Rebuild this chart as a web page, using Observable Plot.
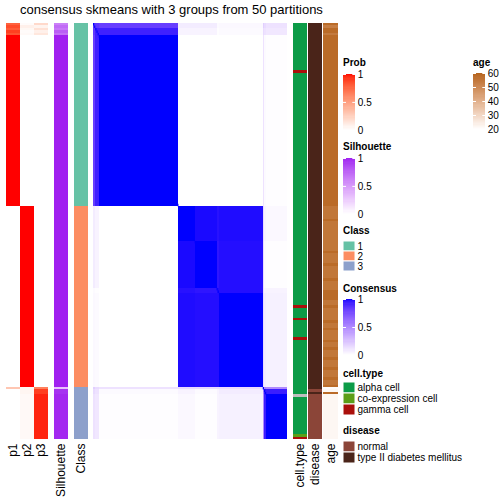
<!DOCTYPE html>
<html><head><meta charset="utf-8">
<script src="https://cdn.jsdelivr.net/npm/d3@7"></script>
<script src="https://cdn.jsdelivr.net/npm/@observablehq/plot@0.6"></script>
<style>
html,body{margin:0;padding:0;background:#fff;}
#root{position:relative;width:504px;height:504px;overflow:hidden;font-family:"Liberation Sans",Arial,Helvetica,sans-serif;}
.abs{position:absolute;}
.abs svg{display:block;overflow:visible;}
.ttl{font-weight:bold;font-size:10px;line-height:10px;white-space:nowrap;color:#000;}
</style></head><body><div id="root"></div>
<script>
// ---------------- data ----------------
const title = "consensus skmeans with 3 groups from 50 partitions";
// run-length encoded per-sample annotations: [value, count]
const classRuns = [["1",74],["2",73],["3",21]];
const p1Runs = [[0.78,1],[0.86,1],[0.8,1],[0.9,1],[0.84,1],[1,69],[0,73],[0.3,1],[0,20]];
const p2Runs = [[0.02,1],[0.08,1],[0.04,1],[0.02,1],[0.03,1],[0,69],[1,73],[0.05,1],[0.05,2],[0.03,18]];
const p3Runs = [[0.2,1],[0.06,1],[0.16,1],[0.08,1],[0.13,1],[0,69],[0,73],[0.65,1],[0.9,2],[0.96,18]];
const silhouetteRuns = [[0.62,1],[0.72,1],[0.66,1],[0.78,1],[0.7,1],[1,69],[1,73],[0.3,1],[0.95,2],[0.98,18]];
const cellTypeRuns = [["alpha cell",19],["gamma cell",1],["alpha cell",94],["gamma cell",1],["alpha cell",4],["gamma cell",1],["alpha cell",7],["gamma cell",1],["alpha cell",22],["NA",1],["alpha cell",15],["co-expression cell",1],["gamma cell",1]];
const diseaseRuns = [["type II diabetes mellitus",148],["normal",1],["type II diabetes mellitus",1],["normal",18]];
const ageRuns = [[58,1],[53,1],[58,2],[54,1],[58,69],
  [55,5],[58,1],[55,12],[58,1],[55,4],[58,1],[55,5],[58,1],[55,4],[58,4],[55,2],[58,1],[55,5],[58,1],[55,2],[58,1],[55,4],[58,1],[55,2],[58,1],[55,3],[58,1],[55,3],[58,1],[55,3],[58,1],[55,2],[58,1],
  [21,1],[22,1],[58,1],[22,18]];
// consensus matrix by sample segments (rows/cols in the same order)
const segNames = ["1u1","1u2","1","2a","2b","2t","2c","3u","3t","3"];
const segSizes = [2,3,69,14,19,2,38,1,2,18];
const consensus = [
 [0.88,0.85,0.82,0.08,0.08,0.02,0.03,0.20,0.15,0.12],
 [0.85,0.93,0.93,0.05,0.05,0.01,0.02,0.15,0.12,0.10],
 [0.82,0.93,1.00,0.00,0.00,0.00,0.00,0.12,0.02,0.01],
 [0.08,0.05,0.00,1.00,0.985,0.97,0.98,0.15,0.05,0.03],
 [0.08,0.05,0.00,0.985,1.00,0.96,0.975,0.15,0.02,0.01],
 [0.02,0.01,0.00,0.97,0.96,0.98,0.975,0.15,0.05,0.05],
 [0.03,0.02,0.00,0.98,0.975,0.975,1.00,0.15,0.08,0.06],
 [0.20,0.15,0.12,0.15,0.15,0.15,0.15,1.00,0.55,0.50],
 [0.15,0.12,0.02,0.05,0.02,0.05,0.08,0.55,0.96,0.94],
 [0.12,0.10,0.01,0.03,0.01,0.05,0.06,0.50,0.94,1.00]
];
const classColors = {domain:["1","2","3"], range:["#66C2A5","#FC8D62","#8DA0CB"]};
const cellTypeColors = {domain:["alpha cell","co-expression cell","gamma cell","NA"], range:["#0C9B47","#5B9E18","#AA0F0B","#BEBEBE"]};
const diseaseColors = {domain:["normal","type II diabetes mellitus"], range:["#8B4538","#4A2419"]};
const ageDomain = [20,60], ageTicks = [20,30,40,50,60];
const probTicks = [0,0.5,1];

// ---------------- layout ----------------
const FONT = '"Liberation Sans", Arial, Helvetica, sans-serif';
const N = d3.sum(classRuns, d => d[1]);
const HM_TOP = 23, HM_H = 416;
const root = document.getElementById("root");
function place(node, left, top, width) {
  const d = document.createElement("div");
  d.className = "abs"; d.style.left = left + "px"; d.style.top = top + "px";
  if (width) d.style.width = width + "px";
  d.appendChild(node); root.appendChild(d); return d;
}
function runsToRects(runs, col) {
  let s = 0;
  return runs.map(([value, n]) => { const r = {col, y1: s, y2: s + n, value}; s += n; return r; });
}
const baseStyle = {fontFamily: FONT, background: "transparent", overflow: "visible", maxWidth: "none"};

// title
const t = document.createElement("div");
t.textContent = title;
t.style.cssText = "font-size:13px;line-height:13px;white-space:nowrap;width:340px;text-align:center;color:#000;";
place(t, 1.5, 3, 340);

function annoPlot(cols, color, left, width) {
  const data = cols.flatMap(([name, runs]) => runsToRects(runs, name));
  const svg = Plot.plot({
    width, height: HM_H + 60, marginTop: 0, marginBottom: 60, marginLeft: 0, marginRight: 0,
    style: baseStyle,
    x: {domain: cols.map(c => c[0]), padding: 0, label: null},
    y: {domain: [0, N], reverse: true, axis: null},
    color,
    marks: [
      Plot.barY(data, {x: "col", y1: "y1", y2: "y2", fill: "value", shapeRendering: "crispEdges"}),
      Plot.axisX({tickSize: 0, tickPadding: 4, tickRotate: -90, fontSize: 12, label: null})
    ]
  });
  place(svg, left, HM_TOP, width);
}
const lab = (hi) => ({type: "linear", domain: [0, 1], range: ["#FFFFFF", hi], interpolate: "lab"});
annoPlot([["p1", p1Runs], ["p2", p2Runs], ["p3", p3Runs]], lab("#FF0000"), 5, 43);
annoPlot([["Silhouette", silhouetteRuns]], lab("#A020F0"), 54, 14);
annoPlot([["Class", classRuns]], {type: "ordinal", ...classColors}, 74, 14);
annoPlot([["cell.type", cellTypeRuns]], {type: "ordinal", ...cellTypeColors}, 293, 14);
annoPlot([["disease", diseaseRuns]], {type: "ordinal", ...diseaseColors}, 308, 14);
annoPlot([["age", ageRuns]], {type: "linear", domain: ageDomain, range: ["#FFFFFF", "#B5641C"], interpolate: "lab"}, 323, 15);

// consensus heatmap
const segStart = []; { let acc = 0; segSizes.forEach(s => { segStart.push(acc); acc += s; }); }
const blocks = [];
segNames.forEach((_, i) => segNames.forEach((_, j) => blocks.push({
  y1: segStart[i], y2: segStart[i] + segSizes[i], x1: segStart[j], x2: segStart[j] + segSizes[j], v: consensus[i][j]})));
const diag = d3.range(N).map(i => ({i, v: 1}));
const hm = Plot.plot({
  width: 194, height: HM_H, margin: 0, style: baseStyle,
  x: {domain: [0, N], axis: null}, y: {domain: [0, N], reverse: true, axis: null},
  color: lab("#0000FF"),
  marks: [
    Plot.rect(blocks, {x1: "x1", x2: "x2", y1: "y1", y2: "y2", fill: "v", shapeRendering: "crispEdges"}),
    Plot.rect(diag, {x1: "i", x2: d => d.i + 1, y1: "i", y2: d => d.i + 1, fill: "v"})
  ]
});
place(hm, 93, HM_TOP, 194);

// legends
function ttl(text, left, top) {
  const d = document.createElement("div"); d.className = "ttl"; d.textContent = text; place(d, left, top);
}
function gradLegend({left, titleTop, title, yTop, yBottom, domain, ticks, hi}) {
  ttl(title, left, titleTop);
  const mT = 4, mB = 8, barW = 12.3, W = 60;
  const [lo, up] = domain;
  const steps = d3.range(50).map(k => {
    const a = lo + (up - lo) * k / 50, b = lo + (up - lo) * (k + 1) / 50;
    return {y1: a, y2: b, v: (a + b) / 2};
  });
  const inner = ticks.filter(v => v !== lo);
  const svg = Plot.plot({
    width: W, height: (yBottom - yTop) + mT + mB, marginTop: mT, marginBottom: mB, marginLeft: 0, marginRight: W - barW,
    style: baseStyle,
    x: {domain: [0, 1], axis: null},
    y: {domain, axis: null},
    color: {type: "linear", domain, range: ["#FFFFFF", hi], interpolate: "lab"},
    marks: [
      Plot.rect(steps, {x1: () => 0, x2: () => 1, y1: "y1", y2: "y2", fill: "v", shapeRendering: "crispEdges"}),
      Plot.tickY(inner, {y: d => d, stroke: "white", strokeWidth: 1, insetRight: barW - 3}),
      Plot.tickY(inner, {y: d => d, stroke: "white", strokeWidth: 1, insetLeft: barW - 3}),
      Plot.axisY({anchor: "right", ticks, tickSize: 0, tickPadding: 2, fontSize: 10, label: null, tickFormat: d => String(d)})
    ]
  });
  place(svg, left, yTop - mT, W);
}
function catLegend({left, titleTop, title, top, rowH, cats, colors}) {
  ttl(title, left, titleTop);
  const W = 200, sq = 12;
  const svg = Plot.plot({
    width: W, height: rowH * cats.length, marginTop: 0, marginBottom: 0, marginLeft: 0, marginRight: W - sq,
    style: baseStyle,
    x: {domain: ["k"], axis: null, padding: 0},
    y: {domain: cats, axis: null, padding: 0},
    color: {type: "ordinal", domain: colors.domain, range: colors.range},
    marks: [
      Plot.cell(cats, {x: () => "k", y: d => d, fill: d => d, stroke: "white", strokeWidth: 1}),
      Plot.text(cats, {x: () => "k", y: d => d, text: d => d, dx: 8, textAnchor: "start", fontSize: 10, fill: "black"})
    ]
  });
  place(svg, left, top, W);
}
gradLegend({left: 343, titleTop: 57.5, title: "Prob", yTop: 73.5, yBottom: 129.3, domain: [0, 1], ticks: probTicks, hi: "#FF0000"});
gradLegend({left: 343, titleTop: 141.5, title: "Silhouette", yTop: 157.5, yBottom: 213.3, domain: [0, 1], ticks: probTicks, hi: "#A020F0"});
catLegend({left: 343, titleTop: 225.5, title: "Class", top: 240, rowH: 10.7, cats: classColors.domain, colors: classColors});
gradLegend({left: 343, titleTop: 283.5, title: "Consensus", yTop: 299.3, yBottom: 355.3, domain: [0, 1], ticks: probTicks, hi: "#0000FF"});
catLegend({left: 343, titleTop: 368.5, title: "cell.type", top: 382.3, rowH: 11.1, cats: cellTypeColors.domain.slice(0, 3), colors: cellTypeColors});
catLegend({left: 343, titleTop: 425.5, title: "disease", top: 440.7, rowH: 11, cats: diseaseColors.domain, colors: diseaseColors});
gradLegend({left: 473, titleTop: 57.5, title: "age", yTop: 73.3, yBottom: 129.3, domain: ageDomain, ticks: ageTicks, hi: "#B5641C"});
</script></body></html>
